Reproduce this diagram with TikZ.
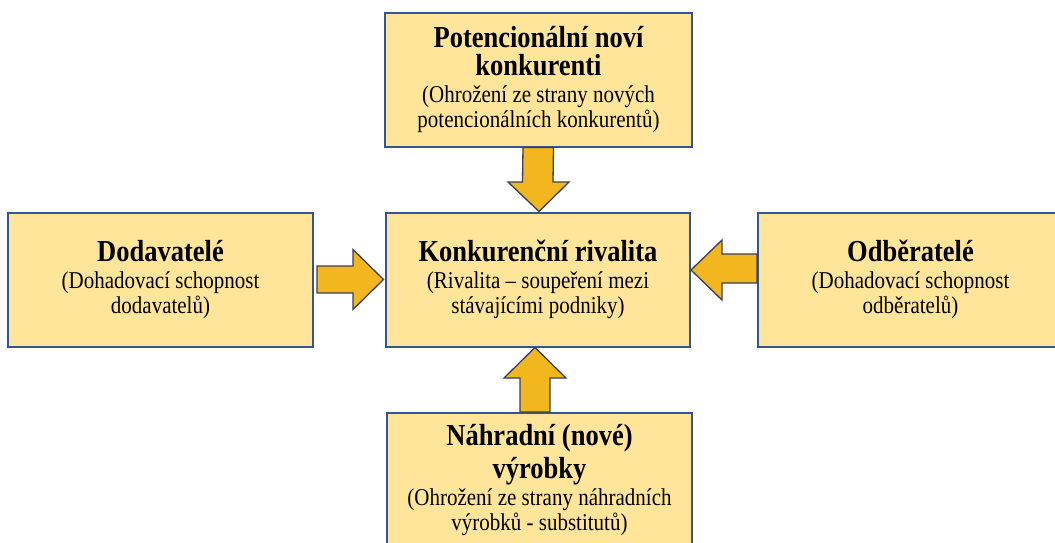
\documentclass[tikz,border=0pt]{standalone}
\usepackage{fontspec}
\usepackage{graphicx}
\setmainfont{Liberation Serif}
\usetikzlibrary{calc}
\definecolor{boxfill}{HTML}{FFE59A}
\definecolor{boxline}{HTML}{35558F}
\definecolor{arrfill}{HTML}{F2B71E}
\definecolor{arrline}{HTML}{3A3F55}
\newcommand\ttlf{\fontsize{26.5}{25}\selectfont\bfseries}
\newcommand\subf{\fontsize{21}{21.7}\selectfont\mdseries}
\newcommand\boxtext[2]{\scalebox{1}[1.15]{\parbox{300pt}{\centering\lineskiplimit=-100pt\lineskip=0pt\ttlf #1\par\vspace{1.8pt}\subf #2\par}}}
\begin{document}
\begin{tikzpicture}[x=1pt,y=-1pt,
  box/.style={draw=boxline, line width=2pt, fill=boxfill, minimum height=134pt, inner sep=0pt},
  blockarrow/.style={draw=arrline, line width=1.3pt, fill=arrfill, line join=miter}]
\useasboundingbox (0,0) rectangle (1055,542);
\node[box, minimum width=307pt] (t) at (538.5,79.5)
  {\boxtext{Potencionální noví\\konkurenti}{(Ohrožení ze strany nových\\potencionálních konkurentů)}};
\node[box, minimum width=304pt] (c) at (538,279.5)
  {\boxtext{Konkurenční rivalita}{(Rivalita – soupeření mezi\\stávajícími podniky)}};
\node[box, minimum width=305pt] (l) at (160.5,279.5)
  {\boxtext{Dodavatelé}{(Dohadovací schopnost\\dodavatelů)}};
\node[box, minimum width=305pt] (r) at (910.5,279.5)
  {\boxtext{Odběratelé}{(Dohadovací schopnost\\odběratelů)}};
\node[box, minimum width=305pt] (b) at (539.5,480)
  {\boxtext{Náhradní (nové)\\[3pt]výrobky}{(Ohrožení ze strany náhradních\\výrobků - substitutů)}};
% down arrow: top -> center
\draw[blockarrow] ($(t.south)+(-15.5,0)$) -- ($(c.north)+(-15.5,-29.5)$) -- ($(c.north)+(-30,-29.5)$)
  -- ($(c.north)+(1,0)$) -- ($(c.north)+(31,-29.5)$) -- ($(c.north)+(15,-29.5)$) -- ($(t.south)+(15,0)$) -- cycle;
% right arrow: left -> center
\draw[blockarrow] ($(l.east)+(3,-13.5)$) -- ($(c.west)+(-32,-13.5)$) -- ($(c.west)+(-32,-30)$)
  -- ($(c.west)+(-1.5,0)$) -- ($(c.west)+(-32,30)$) -- ($(c.west)+(-32,13.5)$) -- ($(l.east)+(3,13.5)$) -- cycle;
% left arrow: right -> center
\draw[blockarrow] ($(r.west)+(0,-25.5)$) -- ($(c.east)+(31,-25.5)$) -- ($(c.east)+(31,-39.5)$)
  -- ($(c.east)+(0,-9.5)$) -- ($(c.east)+(31,20.5)$) -- ($(c.east)+(31,3.5)$) -- ($(r.west)+(0,3.5)$) -- cycle;
% up arrow: bottom -> center
\draw[blockarrow] ($(b.north)+(-19.5,0)$) -- ($(c.south)+(-18,30.5)$) -- ($(c.south)+(-34,30.5)$)
  -- ($(c.south)+(-3,0)$) -- ($(c.south)+(28,30.5)$) -- ($(c.south)+(12,30.5)$) -- ($(b.north)+(10.5,0)$) -- cycle;
\end{tikzpicture}
\end{document}
